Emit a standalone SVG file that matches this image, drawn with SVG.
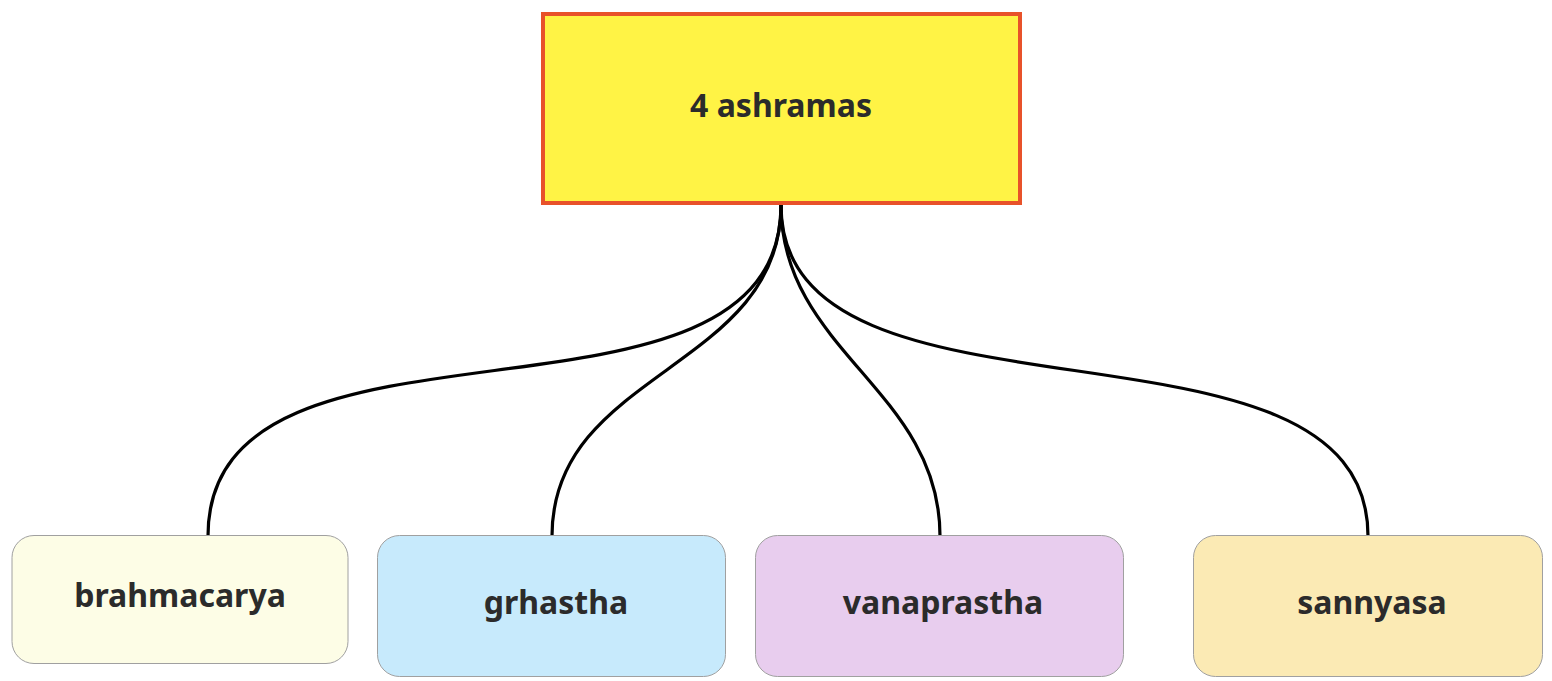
<svg xmlns="http://www.w3.org/2000/svg" width="1552" height="681" viewBox="0 0 1552 681">
<style>
.lbl{font-family:"Noto Sans","Open Sans","Liberation Sans",sans-serif;font-weight:bold;font-size:32px;fill:#2b2b2b;text-anchor:middle}
.child{stroke:#a0a0a0;stroke-width:1}
.conn{fill:none;stroke:#000;stroke-width:3.2}
</style>
<rect width="1552" height="681" fill="#ffffff"/>
<g id="connectors">
<path class="conn" d="M781,205 C781,460 208,281 208,536"/>
<path class="conn" d="M781,205 C781,370 552,370 552,536"/>
<path class="conn" d="M781,205 C781,351 940,390 940,536"/>
<path class="conn" d="M781,205 C781,450 1368,291 1368,536"/>
</g>
<g id="root">
<rect x="543" y="14" width="477" height="189" fill="#fff345" stroke="#e8522a" stroke-width="4"/>
<text class="lbl" x="781" y="117">4 ashramas</text>
</g>
<g id="brahmacarya">
<rect class="child" x="12" y="535.500" width="336" height="128" rx="22" fill="#fdfde6"/>
<text class="lbl" x="180" y="607">brahmacarya</text>
</g>
<g id="grhastha">
<rect class="child" x="377.500" y="535.500" width="348" height="141" rx="22" fill="#c7eafc"/>
<text class="lbl" x="556" y="614">grhastha</text>
</g>
<g id="vanaprastha">
<rect class="child" x="755.500" y="535.500" width="368" height="141" rx="22" fill="#e8cdee"/>
<text class="lbl" x="943" y="614">vanaprastha</text>
</g>
<g id="sannyasa">
<rect class="child" x="1193.500" y="535.500" width="349" height="141" rx="22" fill="#fbeab4"/>
<text class="lbl" x="1372" y="614">sannyasa</text>
</g>
</svg>
